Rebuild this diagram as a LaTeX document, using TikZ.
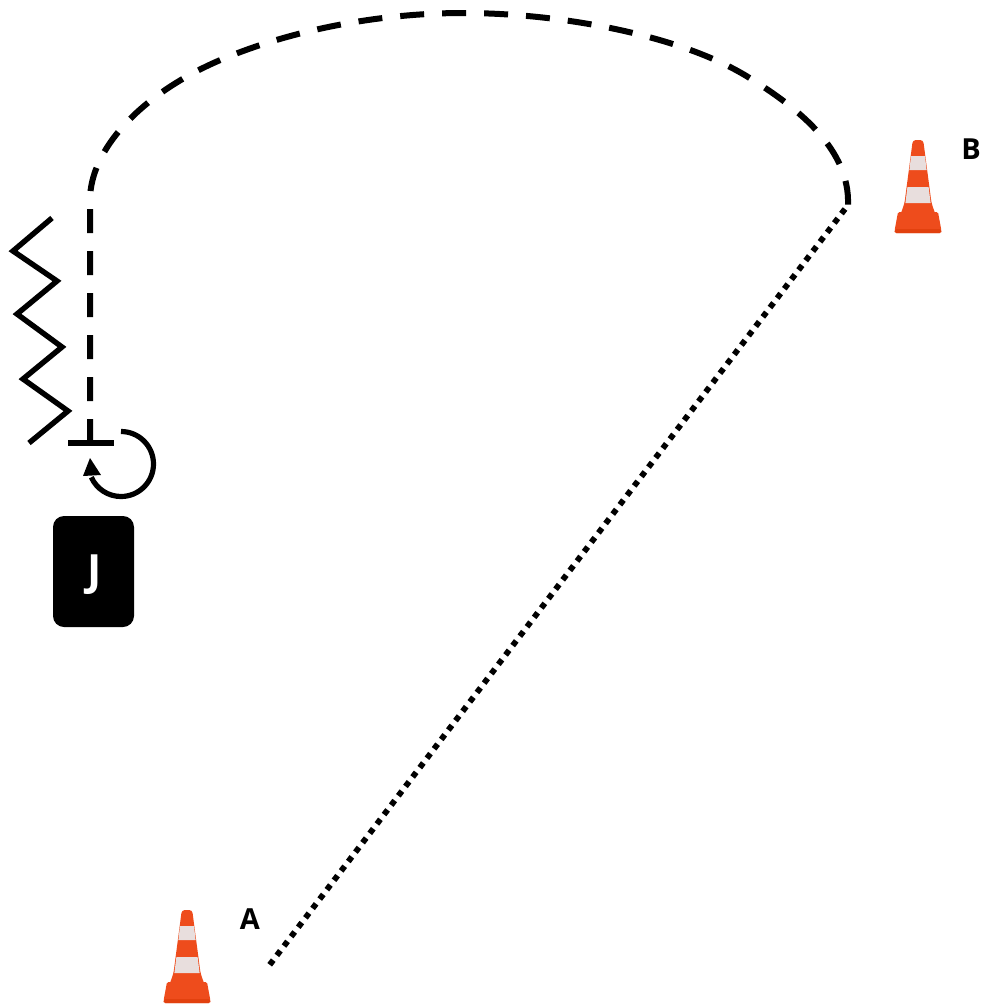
\documentclass[tikz,border=0pt]{standalone}
\usepackage{fontspec}
\setmainfont{Open Sans}
\usepackage{xcolor}
\usepackage{tikz}
\tikzset{every picture/.append style={font=\bfseries}}
\definecolor{conered}{HTML}{EE4C1C}
\definecolor{conedark}{HTML}{E2410F}
\definecolor{coneband}{HTML}{E8DEDD}
\tikzset{
  dashline/.style={line width=6pt,dash pattern=on 24pt off 18pt},
  dotline/.style={line width=5.8pt,dash pattern=on 5.8pt off 6pt},
  plainline/.style={line width=5.4pt,line join=miter},
  letter/.style={font=\fontsize{29}{29}\selectfont\bfseries,inner sep=0pt},
  cone/.pic={
    \fill[conered,rounded corners=1.5pt] (-20,72) -- (20,72) -- (23.5,91) -- (23,93) -- (-23,93) -- (-23.5,91) -- cycle;
    \fill[conedark,rounded corners=1.5pt] (-23,89) -- (23,89) -- (23.5,93) -- (-23.5,93) -- cycle;
    \fill[conered,rounded corners=3pt] (-5.2,0) -- (5.2,0) -- (13.5,63) -- (18,76) -- (-18,76) -- (-13.5,63) -- cycle;
    \fill[coneband] (-7,16) -- (7,16) -- (8.6,30) -- (-8.6,30) -- cycle;
    \fill[coneband] (-10.6,47) -- (10.6,47) -- (12.6,63) -- (-12.6,63) -- cycle;
  }
}
\begin{document}
\begin{tikzpicture}[x=1pt,y=-1pt]
    \useasboundingbox (0,0) rectangle (984,1005);
    \coordinate (foot) at (90,443);
    \coordinate (bend) at (90,200);
    \coordinate (turn) at (848,205);
    \coordinate (start) at (845,209);
    \coordinate (finish) at (268,967);
    % run
    \draw[dashline] (foot) -- (bend) .. controls (90,150) and (140,95) .. (218,61)
      .. controls (290,30) and (380,13) .. (463,13)
      .. controls (560,13) and (680,35) .. (748,77)
      .. controls (800,109) and (850,150) .. (turn);
    \draw[dotline] (start) -- (finish);
    % slalom
    \draw[plainline] (52,218) -- (13,251) -- (57,281) -- (17,314) -- (62,347) -- (23,379) -- (68,411) -- (29,443);
    \coordinate (barl) at (68,443);
    \coordinate (barr) at (114,443);
    \draw[line width=6pt] (barl) -- (barr);
    % turn
    \draw[line width=5.2pt] (121,431.5) arc[start angle=-90,end angle=156,radius=32.5];
    \fill (90,458) -- (101,475) -- (83,476) -- cycle;
    \node[fill=black,rounded corners=11pt,minimum width=81pt,minimum height=111pt] (jbox) at (93.5,571.5) {};
    \node[letter,text=white,font=\fontsize{43}{43}\selectfont\bfseries] (jlab) at (95,575) {J};
    % cones
    \pic at (918,140) {cone};
    \pic at (187,910) {cone};
    \node[letter] (alab) at (250,919) {A};
    \node[letter] (blab) at (971,149) {B};
  \end{tikzpicture}
\end{document}
